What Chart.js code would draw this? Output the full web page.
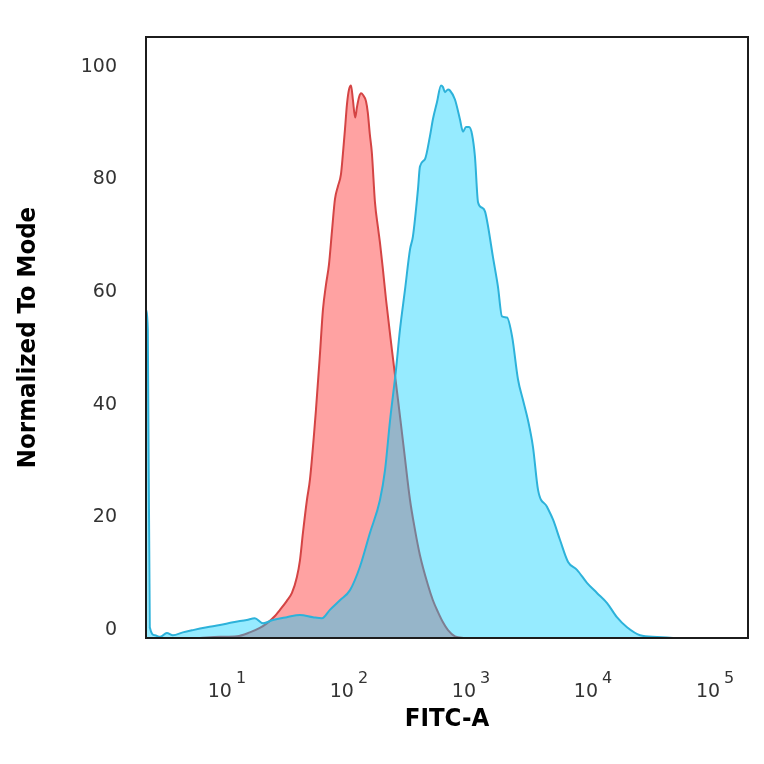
<!DOCTYPE html>
<html>
<head>
<meta charset="utf-8">
<script src="https://cdn.jsdelivr.net/npm/chart.js@4.4.1/dist/chart.umd.min.js"></script>
<style>
  html, body { margin: 0; padding: 0; background: #fff; }
  #wrap { width: 764px; height: 764px; }
</style>
</head>
<body>
<div id="wrap"><canvas id="chart" width="764" height="764"></canvas></div>
<script>
// Isotype (rot)
const isoX = [6.35, 9.27, 12.8, 16.3, 19.7, 22.5, 26.2, 28.8, 32.8, 36.1, 39.6, 42.0, 44.4, 47.9, 50.7, 56.8, 61.2, 64.8, 68.6, 72.6,
  76.8, 81.3, 86.0, 91.0, 94.4, 98.2, 102, 106, 110, 114, 119, 123, 128, 133, 138, 146, 151, 157, 163, 173,
  183, 190, 201, 213, 238, 267, 299, 335, 368, 404, 470, 516, 568, 624, 686, 782, 944];
const isoY = [-1.4, -1.2, -1.1, -0.4, 0.4, 1.2, 2.5, 3.6, 5.2, 6.6, 9.4, 12.4, 17.2, 23.1, 26.7, 39.1, 48.9, 56.9, 61.3, 64.9,
  70.8, 76.5, 78.8, 80.9, 84.5, 88.9, 93.4, 96.0, 96.7, 94.2, 91.0, 92.8, 94.6, 95.3, 95.0, 93.9, 91.9, 88.0, 84.8, 75.9,
  71.5, 68.8, 64.0, 58.7, 49.8, 40.9, 32.0, 23.1, 17.8, 13.3, 8.0, 5.3, 3.2, 1.4, 0, -1.1, -1.4];

// Gefaerbte Probe (cyan)
const stainX = [2.30, 2.38, 2.47, 2.72, 2.99, 3.41, 3.82, 4.61, 5.57, 7.26, 9.27, 11.9, 15.4, 17.9, 20.9, 25.2, 32.8, 42.0, 53.7, 63.6,
  73.9, 89.3, 108, 130, 157, 190, 209, 230, 257, 277, 305, 335, 354, 389, 404, 444, 488, 516, 557, 601,
  624, 648, 686, 712, 782, 859, 910, 963, 1020, 1080, 1140, 1210, 1300, 1380, 1460, 1600, 1760, 1900, 2090, 2300,
  2570, 2820, 3100, 3410, 3750, 4440, 4980, 5680, 6610, 7820, 9440, 11400, 13800, 16600, 20100, 25700, 35400, 47900];
const stainY = [56.9, 53.3, 0.5, -0.9, -1.2, -0.5, -0.9, -0.4, 0, 0.5, 0.9, 1.4, 1.8, 2.1, 1.2, 1.8, 2.3, 2.7, 2.3, 2.1,
  3.6, 5.3, 7.1, 11.2, 17.2, 23.1, 28.4, 37.3, 46.2, 53.3, 60.5, 67.6, 69.9, 78.2, 82.3, 83.6, 87.7, 90.7, 93.7, 96.7,
  96.4, 95.5, 96.0, 95.8, 94.2, 90.7, 88.5, 89.3, 89.3, 88.0, 84.1, 75.9, 75.0, 74.3, 71.7, 66.3, 61.0, 55.7, 55.5, 52.1,
  44.5, 40.9, 37.3, 32.5, 24.9, 21.9, 19.6, 16.0, 12.1, 10.7, 8.4, 6.6, 4.8, 2.3, 0.5, -0.9, -1.2, -1.4];

const xDecades = [1, 2, 3, 4, 5];
const yTicks = [0, 20, 40, 60, 80, 100];

const toPoints = (xs, ys) => xs.map((x, i) => ({x: x, y: ys[i]}));

// Rahmen und 10^n Beschriftung selber zeichnen
const framePlugin = {
  id: 'frame',
  afterDraw(chart) {
    const c = chart.ctx;
    const a = chart.chartArea;
    const xs = chart.scales.x;
    c.save();
    c.strokeStyle = '#1c1c1c';
    c.lineWidth = 2;
    c.strokeRect(a.left, a.top, a.right - a.left, a.bottom - a.top);

    c.fillStyle = '#333';
    c.textBaseline = 'alphabetic';
    xDecades.forEach(n => {
      const px = xs.getPixelForValue(Math.pow(10, n));
      c.font = '19px "DejaVu Sans"';
      c.textAlign = 'right';
      c.fillText('10', px + 8, 697);
      c.font = '16px "DejaVu Sans"';
      c.textAlign = 'left';
      c.fillText(String(n), px + 12, 683);
    });
    c.restore();
  }
};

const ctx = document.getElementById('chart').getContext('2d');
const titleFont = {family: '"Liberation Sans Narrow", "DejaVu Sans Condensed", sans-serif', size: 25.5, weight: 'bold'};

new Chart(ctx, {
  type: 'line',
  data: {
    datasets: [
      {
        data: toPoints(stainX, stainY),
        borderColor: 'rgb(45, 178, 218)',
        backgroundColor: 'rgba(5, 207, 255, 0.42)',
        borderWidth: 2,
        fill: 'start',
        pointRadius: 0,
        cubicInterpolationMode: 'monotone',
        order: 0
      },
      {
        data: toPoints(isoX, isoY),
        borderColor: 'rgb(212, 68, 68)',
        backgroundColor: 'rgb(255, 162, 162)',
        borderWidth: 2,
        fill: 'start',
        pointRadius: 0,
        cubicInterpolationMode: 'monotone',
        order: 1
      }
    ]
  },
  options: {
    responsive: false,
    animation: false,
    devicePixelRatio: 1,
    layout: {padding: {top: 37, right: 16, left: 0, bottom: 0}},
    plugins: {
      legend: {display: false},
      tooltip: {enabled: false}
    },
    scales: {
      x: {
        type: 'logarithmic',
        min: 2.3,
        max: 197000,
        grid: {display: false},
        border: {display: false},
        ticks: {display: false},
        afterBuildTicks: s => { s.ticks = xDecades.map(n => ({value: Math.pow(10, n)})); },
        afterFit: s => { s.height = 126; },
        title: {display: true, text: 'FITC-A', color: '#000', font: titleFont, padding: {top: 0, bottom: 29}}
      },
      y: {
        min: -1.4,
        max: 105.3,
        grid: {display: false},
        border: {display: false},
        afterBuildTicks: s => { s.ticks = yTicks.map(v => ({value: v})); },
        afterFit: s => { s.width = 146; },
        ticks: {
          color: '#333',
          padding: 21,
          font: {family: '"DejaVu Sans"', size: 19}
        },
        title: {display: true, text: 'Normalized To Mode', color: '#000', font: titleFont, padding: {top: 13, bottom: 0}}
      }
    }
  },
  plugins: [framePlugin]
});
</script>
</body>
</html>
